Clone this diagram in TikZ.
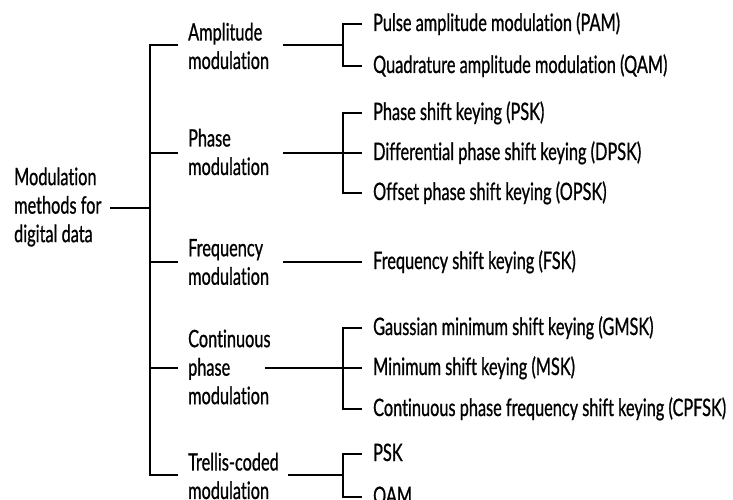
\documentclass[tikz,border=0pt]{standalone}
\usepackage{fontspec}
\setmainfont{Lato}[FakeStretch=0.68,FakeBold=0.8,Ligatures=NoCommon]
\begin{document}
\begin{tikzpicture}[x=1pt,y=-1pt,line width=2.3pt,line join=miter,
  lbl/.style={font=\fontsize{24}{28.5}\selectfont,align=left,inner sep=0pt,anchor=west},
  leaf/.style={font=\fontsize{24}{28.5}\selectfont,inner sep=0pt,anchor=base west}]
\useasboundingbox (0,0) rectangle (733,500);
% root
\node[lbl] (root) at (13,207) {Modulation\\methods for\\digital data};
\coordinate (rs) at (110,208);
\coordinate (tR) at (150,208);
% trunk junctions
\coordinate (tA) at (150,45);
\coordinate (tP) at (150,153);
\coordinate (tF) at (150,262);
\coordinate (tC) at (150,368);
\coordinate (tT) at (150,475);
% level 1 labels
\node[lbl] (amp) at (187,46) {Amplitude\\modulation};
\node[lbl] (pha) at (187,152) {Phase\\modulation};
\node[lbl] (fre) at (187,262) {Frequency\\modulation};
\node[lbl] (con) at (187,367) {Continuous\\phase\\modulation};
\node[lbl] (tre) at (187,476) {Trellis-coded\\modulation};
% line starts after labels
\coordinate (aS) at (283,45);
\coordinate (pS) at (283,153);
\coordinate (fS) at (283,262);
\coordinate (cS) at (265,368);
\coordinate (tS) at (288,475);
% bracket junctions
\coordinate (bA) at (343,45);
\coordinate (bP) at (343,153);
\coordinate (bC) at (343,368);
\coordinate (bT) at (343,475);
% leaves (line y, text baseline = line y + 7)
\coordinate (lA1) at (362,24);  \node[leaf] (A1) at (372,31) {Pulse amplitude modulation (PAM)};
\coordinate (lA2) at (362,66);  \node[leaf] (A2) at (372,73) {Quadrature amplitude modulation (QAM)};
\coordinate (lP1) at (362,113); \node[leaf] (P1) at (372,120) {Phase shift keying (PSK)};
\coordinate (lP2) at (362,153); \node[leaf] (P2) at (372,160) {Differential phase shift keying (DPSK)};
\coordinate (lP3) at (362,193); \node[leaf] (P3) at (372,200) {Offset phase shift keying (OPSK)};
\coordinate (lF1) at (362,262); \node[leaf] (F1) at (372,269) {Frequency shift keying (FSK)};
\coordinate (lC1) at (362,328); \node[leaf] (C1) at (372,335) {Gaussian minimum shift keying (GMSK)};
\coordinate (lC2) at (362,368); \node[leaf] (C2) at (372,375) {Minimum shift keying (MSK)};
\coordinate (lC3) at (362,409); \node[leaf] (C3) at (372,416) {Continuous phase frequency shift keying (CPFSK)};
\coordinate (lT1) at (362,454); \node[leaf] (T1) at (372,461) {PSK};
\coordinate (lT2) at (362,497); \node[leaf] (T2) at (372,504) {QAM};
% trunk
\draw (rs) -- (tR);
\draw (tA -| 178,0) -- (tA) -- (tT) -- (tT -| 178,0);
\draw (tP) -- (tP -| 178,0);
\draw (tF) -- (tF -| 178,0);
\draw (tC) -- (tC -| 178,0);
% label lines
\draw (aS) -- (bA);
\draw (pS) -- (bP);
\draw (fS) -- (lF1);
\draw (cS) -- (bC);
\draw (tS) -- (bT);
% brackets
\draw (lA1) -- (lA1 -| bA) -- (lA2 -| bA) -- (lA2);
\draw (lP1) -- (lP1 -| bP) -- (lP3 -| bP) -- (lP3);
\draw (bP) -- (lP2);
\draw (lC1) -- (lC1 -| bC) -- (lC3 -| bC) -- (lC3);
\draw (bC) -- (lC2);
\draw (lT1) -- (lT1 -| bT) -- (lT2 -| bT) -- (lT2);
\end{tikzpicture}
\end{document}
